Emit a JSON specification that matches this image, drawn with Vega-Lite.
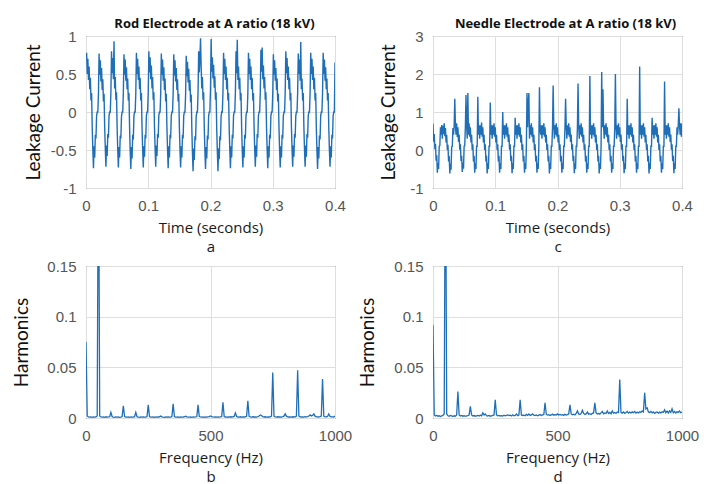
{
"$schema":"https://vega.github.io/schema/vega-lite/v6.json",
"background":"white",
"padding":{"left":12,"top":17,"right":5,"bottom":0},
"columns":2,
"spacing":{"row":78,"column":98},
"bounds":"flush",
"config":{
 "font":"Open Sans",
 "view":{"stroke":"#3a3a3a","strokeWidth":1},
 "axis":{"grid":true,"gridColor":"#dedede","gridWidth":1,"domain":false,"ticks":false,"labelFont":"Liberation Sans","labelFontSize":15,"labelColor":"#555555","labelPadding":10,"labelFlush":false,"titleFont":"Open Sans","titleFontWeight":"normal","titleFontSize":15,"titleColor":"#1a1a1a"},
 "axisX":{"titlePadding":7,"titleLineHeight":19},
 "axisY":{"titleFont":"Lato","titleFontSize":19,"titleColor":"#111111"},
 "title":{"font":"Open Sans","fontSize":13,"fontWeight":"bold","color":"#111111","offset":-2}
},
"datasets":{
"a":[
{"t":0,"v":0.7},{"t":1,"v":0.78},{"t":2,"v":0.5},{"t":3,"v":0.7},{"t":4,"v":0.42},{"t":5,"v":0.6},{"t":6,"v":0.3},{"t":7,"v":0.45},{"t":8,"v":0.15},{"t":9,"v":0.25},{"t":10,"v":-0.2},{"t":11,"v":-0.5},{"t":12,"v":-0.74},{"t":13,"v":-0.45},{"t":14,"v":-0.6},{"t":15,"v":-0.3},{"t":16,"v":-0.35},{"t":17,"v":-0.05},{"t":18,"v":0},{"t":19,"v":0},
{"t":20,"v":0.24},{"t":21,"v":0.77},{"t":22,"v":0.49},{"t":23,"v":0.68},{"t":24,"v":0.4},{"t":25,"v":0.58},{"t":26,"v":0.29},{"t":27,"v":0.43},{"t":28,"v":0.14},{"t":29,"v":0.24},{"t":30,"v":-0.19},{"t":31,"v":-0.48},{"t":32,"v":-0.72},{"t":33,"v":-0.44},{"t":34,"v":-0.58},{"t":35,"v":-0.29},{"t":36,"v":-0.34},{"t":37,"v":-0.05},{"t":38,"v":0},{"t":39,"v":0},
{"t":40,"v":0.26},{"t":41,"v":0.8},{"t":42,"v":0.51},{"t":43,"v":0.71},{"t":44,"v":0.43},{"t":45,"v":0.93},{"t":46,"v":0.31},{"t":47,"v":0.46},{"t":48,"v":0.16},{"t":49,"v":0.26},{"t":50,"v":-0.21},{"t":51,"v":-0.5},{"t":52,"v":-0.73},{"t":53,"v":-0.46},{"t":54,"v":-0.6},{"t":55,"v":-0.31},{"t":56,"v":-0.35},{"t":57,"v":-0.06},{"t":58,"v":0},{"t":59,"v":0},
{"t":60,"v":0.25},{"t":61,"v":0.76},{"t":62,"v":0.49},{"t":63,"v":0.69},{"t":64,"v":0.41},{"t":65,"v":0.59},{"t":66,"v":0.3},{"t":67,"v":0.44},{"t":68,"v":0.15},{"t":69,"v":0.25},{"t":70,"v":-0.2},{"t":71,"v":-0.51},{"t":72,"v":-0.75},{"t":73,"v":-0.46},{"t":74,"v":-0.61},{"t":75,"v":-0.3},{"t":76,"v":-0.36},{"t":77,"v":-0.05},{"t":78,"v":0},{"t":79,"v":0},
{"t":80,"v":0.25},{"t":81,"v":0.78},{"t":82,"v":0.5},{"t":83,"v":0.7},{"t":84,"v":0.42},{"t":85,"v":0.6},{"t":86,"v":0.3},{"t":87,"v":0.45},{"t":88,"v":0.15},{"t":89,"v":0.25},{"t":90,"v":-0.2},{"t":91,"v":-0.49},{"t":92,"v":-0.73},{"t":93,"v":-0.45},{"t":94,"v":-0.59},{"t":95,"v":-0.3},{"t":96,"v":-0.35},{"t":97,"v":-0.05},{"t":98,"v":0},{"t":99,"v":0},
{"t":100,"v":0.27},{"t":101,"v":0.8},{"t":102,"v":0.52},{"t":103,"v":0.72},{"t":104,"v":0.43},{"t":105,"v":0.61},{"t":106,"v":0.31},{"t":107,"v":0.46},{"t":108,"v":0.16},{"t":109,"v":0.26},{"t":110,"v":-0.19},{"t":111,"v":-0.48},{"t":112,"v":-0.72},{"t":113,"v":-0.44},{"t":114,"v":-0.58},{"t":115,"v":-0.29},{"t":116,"v":-0.34},{"t":117,"v":-0.04},{"t":118,"v":0},{"t":119,"v":0},
{"t":120,"v":0.24},{"t":121,"v":0.77},{"t":122,"v":0.49},{"t":123,"v":0.69},{"t":124,"v":0.41},{"t":125,"v":0.59},{"t":126,"v":0.29},{"t":127,"v":0.44},{"t":128,"v":0.14},{"t":129,"v":0.24},{"t":130,"v":-0.2},{"t":131,"v":-0.5},{"t":132,"v":-0.74},{"t":133,"v":-0.45},{"t":134,"v":-0.6},{"t":135,"v":-0.3},{"t":136,"v":-0.35},{"t":137,"v":-0.05},{"t":138,"v":0},{"t":139,"v":0},
{"t":140,"v":0.24},{"t":141,"v":0.76},{"t":142,"v":0.48},{"t":143,"v":0.68},{"t":144,"v":0.4},{"t":145,"v":0.58},{"t":146,"v":0.29},{"t":147,"v":0.43},{"t":148,"v":0.14},{"t":149,"v":0.24},{"t":150,"v":-0.2},{"t":151,"v":-0.5},{"t":152,"v":-0.73},{"t":153,"v":-0.45},{"t":154,"v":-0.6},{"t":155,"v":-0.3},{"t":156,"v":-0.35},{"t":157,"v":-0.05},{"t":158,"v":0},{"t":159,"v":0},
{"t":160,"v":0.23},{"t":161,"v":0.74},{"t":162,"v":0.47},{"t":163,"v":0.66},{"t":164,"v":0.39},{"t":165,"v":0.57},{"t":166,"v":0.28},{"t":167,"v":0.42},{"t":168,"v":0.13},{"t":169,"v":0.23},{"t":170,"v":-0.22},{"t":171,"v":-0.53},{"t":172,"v":-0.78},{"t":173,"v":-0.48},{"t":174,"v":-0.63},{"t":175,"v":-0.32},{"t":176,"v":-0.37},{"t":177,"v":-0.06},{"t":178,"v":0},{"t":179,"v":0},
{"t":180,"v":0.26},{"t":181,"v":0.8},{"t":182,"v":0.52},{"t":183,"v":0.71},{"t":184,"v":0.97},{"t":185,"v":0.6},{"t":186,"v":0.31},{"t":187,"v":0.46},{"t":188,"v":0.16},{"t":189,"v":0.26},{"t":190,"v":-0.2},{"t":191,"v":-0.51},{"t":192,"v":-0.75},{"t":193,"v":-0.46},{"t":194,"v":-0.61},{"t":195,"v":-0.31},{"t":196,"v":-0.36},{"t":197,"v":-0.05},{"t":198,"v":0},{"t":199,"v":0},
{"t":200,"v":0.3},{"t":201,"v":0.96},{"t":202,"v":0.53},{"t":203,"v":0.72},{"t":204,"v":0.44},{"t":205,"v":0.62},{"t":206,"v":0.32},{"t":207,"v":0.47},{"t":208,"v":0.16},{"t":209,"v":0.26},{"t":210,"v":-0.22},{"t":211,"v":-0.52},{"t":212,"v":-0.78},{"t":213,"v":-0.48},{"t":214,"v":-0.62},{"t":215,"v":-0.32},{"t":216,"v":-0.37},{"t":217,"v":-0.06},{"t":218,"v":0},{"t":219,"v":0},
{"t":220,"v":0.25},{"t":221,"v":0.78},{"t":222,"v":0.5},{"t":223,"v":0.7},{"t":224,"v":0.42},{"t":225,"v":0.6},{"t":226,"v":0.3},{"t":227,"v":0.45},{"t":228,"v":0.15},{"t":229,"v":0.25},{"t":230,"v":-0.2},{"t":231,"v":-0.5},{"t":232,"v":-0.74},{"t":233,"v":-0.45},{"t":234,"v":-0.6},{"t":235,"v":-0.3},{"t":236,"v":-0.35},{"t":237,"v":-0.05},{"t":238,"v":0},{"t":239,"v":0},
{"t":240,"v":0.26},{"t":241,"v":0.8},{"t":242,"v":0.51},{"t":243,"v":0.95},{"t":244,"v":0.42},{"t":245,"v":0.6},{"t":246,"v":0.3},{"t":247,"v":0.45},{"t":248,"v":0.15},{"t":249,"v":0.25},{"t":250,"v":-0.2},{"t":251,"v":-0.5},{"t":252,"v":-0.73},{"t":253,"v":-0.45},{"t":254,"v":-0.6},{"t":255,"v":-0.3},{"t":256,"v":-0.35},{"t":257,"v":-0.05},{"t":258,"v":0},{"t":259,"v":0},
{"t":260,"v":0.25},{"t":261,"v":0.78},{"t":262,"v":0.5},{"t":263,"v":0.7},{"t":264,"v":0.42},{"t":265,"v":0.6},{"t":266,"v":0.3},{"t":267,"v":0.45},{"t":268,"v":0.15},{"t":269,"v":0.25},{"t":270,"v":-0.19},{"t":271,"v":-0.49},{"t":272,"v":-0.72},{"t":273,"v":-0.44},{"t":274,"v":-0.59},{"t":275,"v":-0.29},{"t":276,"v":-0.34},{"t":277,"v":-0.05},{"t":278,"v":0},{"t":279,"v":0},
{"t":280,"v":0.27},{"t":281,"v":0.82},{"t":282,"v":0.53},{"t":283,"v":0.85},{"t":284,"v":0.43},{"t":285,"v":0.61},{"t":286,"v":0.31},{"t":287,"v":0.46},{"t":288,"v":0.16},{"t":289,"v":0.26},{"t":290,"v":-0.2},{"t":291,"v":-0.5},{"t":292,"v":-0.74},{"t":293,"v":-0.45},{"t":294,"v":-0.6},{"t":295,"v":-0.3},{"t":296,"v":-0.35},{"t":297,"v":-0.05},{"t":298,"v":0},{"t":299,"v":0},
{"t":300,"v":0.24},{"t":301,"v":0.76},{"t":302,"v":0.49},{"t":303,"v":0.68},{"t":304,"v":0.41},{"t":305,"v":0.58},{"t":306,"v":0.29},{"t":307,"v":0.44},{"t":308,"v":0.14},{"t":309,"v":0.24},{"t":310,"v":-0.2},{"t":311,"v":-0.5},{"t":312,"v":-0.73},{"t":313,"v":-0.45},{"t":314,"v":-0.6},{"t":315,"v":-0.3},{"t":316,"v":-0.35},{"t":317,"v":-0.05},{"t":318,"v":0},{"t":319,"v":0},
{"t":320,"v":0.26},{"t":321,"v":0.8},{"t":322,"v":0.51},{"t":323,"v":0.71},{"t":324,"v":0.42},{"t":325,"v":0.6},{"t":326,"v":0.3},{"t":327,"v":0.45},{"t":328,"v":0.15},{"t":329,"v":0.25},{"t":330,"v":-0.19},{"t":331,"v":-0.49},{"t":332,"v":-0.72},{"t":333,"v":-0.44},{"t":334,"v":-0.59},{"t":335,"v":-0.29},{"t":336,"v":-0.34},{"t":337,"v":-0.05},{"t":338,"v":0},{"t":339,"v":0},
{"t":340,"v":0.25},{"t":341,"v":0.77},{"t":342,"v":0.5},{"t":343,"v":0.69},{"t":344,"v":0.41},{"t":345,"v":0.92},{"t":346,"v":0.3},{"t":347,"v":0.44},{"t":348,"v":0.15},{"t":349,"v":0.25},{"t":350,"v":-0.19},{"t":351,"v":-0.49},{"t":352,"v":-0.72},{"t":353,"v":-0.44},{"t":354,"v":-0.59},{"t":355,"v":-0.29},{"t":356,"v":-0.34},{"t":357,"v":-0.05},{"t":358,"v":0},{"t":359,"v":0},
{"t":360,"v":0.25},{"t":361,"v":0.78},{"t":362,"v":0.5},{"t":363,"v":0.7},{"t":364,"v":0.42},{"t":365,"v":0.6},{"t":366,"v":0.3},{"t":367,"v":0.45},{"t":368,"v":0.15},{"t":369,"v":0.25},{"t":370,"v":-0.21},{"t":371,"v":-0.51},{"t":372,"v":-0.75},{"t":373,"v":-0.46},{"t":374,"v":-0.61},{"t":375,"v":-0.31},{"t":376,"v":-0.36},{"t":377,"v":-0.05},{"t":378,"v":0},{"t":379,"v":0},
{"t":380,"v":0.25},{"t":381,"v":0.78},{"t":382,"v":0.5},{"t":383,"v":0.69},{"t":384,"v":0.41},{"t":385,"v":0.59},{"t":386,"v":0.3},{"t":387,"v":0.44},{"t":388,"v":0.15},{"t":389,"v":0.25},{"t":390,"v":-0.2},{"t":391,"v":-0.5},{"t":392,"v":-0.72},{"t":393,"v":-0.45},{"t":394,"v":-0.6},{"t":395,"v":-0.3},{"t":396,"v":-0.35},{"t":397,"v":-0.05},{"t":398,"v":0},{"t":399,"v":0},
{"t":400,"v":0.65}
],
"c":[
{"t":0,"v":0.7},{"t":1,"v":0.22},{"t":2,"v":0.42},{"t":3,"v":0.02},{"t":4,"v":0.16},{"t":5,"v":-0.28},{"t":6,"v":-0.14},{"t":7,"v":-0.6},{"t":8,"v":-0.34},{"t":9,"v":-0.5},{"t":10,"v":0.1},{"t":11,"v":0.12},{"t":12,"v":0.6},{"t":13,"v":0.4},{"t":14,"v":0.66},{"t":15,"v":0.3},{"t":16,"v":0.64},{"t":17,"v":0.42},{"t":18,"v":0.7},{"t":19,"v":0.36},
{"t":20,"v":0.58},{"t":21,"v":0.2},{"t":22,"v":0.4},{"t":23,"v":0},{"t":24,"v":0.14},{"t":25,"v":-0.3},{"t":26,"v":-0.16},{"t":27,"v":-0.62},{"t":28,"v":-0.36},{"t":29,"v":-0.52},{"t":30,"v":0.08},{"t":31,"v":0.1},{"t":32,"v":0.58},{"t":33,"v":0.4},{"t":34,"v":0.64},{"t":35,"v":1.35},{"t":36,"v":0.66},{"t":37,"v":0.4},{"t":38,"v":0.7},{"t":39,"v":0.34},
{"t":40,"v":0.6},{"t":41,"v":0.21},{"t":42,"v":0.41},{"t":43,"v":0.01},{"t":44,"v":0.15},{"t":45,"v":-0.29},{"t":46,"v":-0.15},{"t":47,"v":-0.58},{"t":48,"v":-0.34},{"t":49,"v":-0.49},{"t":50,"v":0.1},{"t":51,"v":0.11},{"t":52,"v":0.6},{"t":53,"v":1.45},{"t":54,"v":0.65},{"t":55,"v":0.3},{"t":56,"v":1.5},{"t":57,"v":0.4},{"t":58,"v":0.7},{"t":59,"v":0.35},
{"t":60,"v":0.6},{"t":61,"v":0.2},{"t":62,"v":0.4},{"t":63,"v":0},{"t":64,"v":0.15},{"t":65,"v":-0.3},{"t":66,"v":-0.15},{"t":67,"v":-0.6},{"t":68,"v":-0.35},{"t":69,"v":-0.5},{"t":70,"v":0.1},{"t":71,"v":0.1},{"t":72,"v":1.4},{"t":73,"v":0.4},{"t":74,"v":0.65},{"t":75,"v":0.3},{"t":76,"v":0.65},{"t":77,"v":0.4},{"t":78,"v":0.72},{"t":79,"v":0.35},
{"t":80,"v":0.6},{"t":81,"v":0.2},{"t":82,"v":0.4},{"t":83,"v":0},{"t":84,"v":0.15},{"t":85,"v":-0.3},{"t":86,"v":-0.15},{"t":87,"v":-0.62},{"t":88,"v":-0.35},{"t":89,"v":-0.5},{"t":90,"v":0.1},{"t":91,"v":0.1},{"t":92,"v":1.25},{"t":93,"v":0.4},{"t":94,"v":0.65},{"t":95,"v":0.3},{"t":96,"v":0.65},{"t":97,"v":0.4},{"t":98,"v":0.7},{"t":99,"v":0.35},
{"t":100,"v":0.6},{"t":101,"v":0.2},{"t":102,"v":0.4},{"t":103,"v":0},{"t":104,"v":0.15},{"t":105,"v":-0.3},{"t":106,"v":-0.15},{"t":107,"v":-0.6},{"t":108,"v":-0.35},{"t":109,"v":-0.5},{"t":110,"v":0.1},{"t":111,"v":0.1},{"t":112,"v":1.0},{"t":113,"v":0.4},{"t":114,"v":0.65},{"t":115,"v":0.3},{"t":116,"v":0.65},{"t":117,"v":0.4},{"t":118,"v":0.7},{"t":119,"v":0.35},
{"t":120,"v":0.6},{"t":121,"v":0.21},{"t":122,"v":0.41},{"t":123,"v":0.01},{"t":124,"v":0.15},{"t":125,"v":-0.29},{"t":126,"v":-0.15},{"t":127,"v":-0.61},{"t":128,"v":-0.35},{"t":129,"v":-0.5},{"t":130,"v":0.1},{"t":131,"v":0.1},{"t":132,"v":0.85},{"t":133,"v":0.4},{"t":134,"v":0.65},{"t":135,"v":0.3},{"t":136,"v":0.65},{"t":137,"v":0.4},{"t":138,"v":0.7},{"t":139,"v":0.35},
{"t":140,"v":0.6},{"t":141,"v":0.2},{"t":142,"v":0.4},{"t":143,"v":0},{"t":144,"v":0.15},{"t":145,"v":-0.3},{"t":146,"v":-0.15},{"t":147,"v":-0.6},{"t":148,"v":-0.35},{"t":149,"v":-0.5},{"t":150,"v":0.1},{"t":151,"v":1.5},{"t":152,"v":0.6},{"t":153,"v":1.2},{"t":154,"v":1.5},{"t":155,"v":0.3},{"t":156,"v":0.65},{"t":157,"v":0.4},{"t":158,"v":0.7},{"t":159,"v":0.35},
{"t":160,"v":0.6},{"t":161,"v":0.2},{"t":162,"v":0.4},{"t":163,"v":0},{"t":164,"v":0.15},{"t":165,"v":-0.3},{"t":166,"v":-0.15},{"t":167,"v":-0.6},{"t":168,"v":-0.35},{"t":169,"v":-0.5},{"t":170,"v":0.1},{"t":171,"v":1.65},{"t":172,"v":0.6},{"t":173,"v":0.4},{"t":174,"v":0.65},{"t":175,"v":0.3},{"t":176,"v":0.65},{"t":177,"v":0.4},{"t":178,"v":0.7},{"t":179,"v":0.35},
{"t":180,"v":0.6},{"t":181,"v":0.2},{"t":182,"v":0.4},{"t":183,"v":0},{"t":184,"v":0.15},{"t":185,"v":-0.3},{"t":186,"v":-0.15},{"t":187,"v":-0.62},{"t":188,"v":-0.35},{"t":189,"v":-0.5},{"t":190,"v":0.1},{"t":191,"v":0.1},{"t":192,"v":0.6},{"t":193,"v":1.7},{"t":194,"v":0.65},{"t":195,"v":0.3},{"t":196,"v":0.65},{"t":197,"v":0.4},{"t":198,"v":0.7},{"t":199,"v":0.35},
{"t":200,"v":0.6},{"t":201,"v":0.2},{"t":202,"v":0.4},{"t":203,"v":0},{"t":204,"v":0.15},{"t":205,"v":-0.3},{"t":206,"v":-0.15},{"t":207,"v":-0.6},{"t":208,"v":-0.35},{"t":209,"v":-0.5},{"t":210,"v":0.1},{"t":211,"v":0.1},{"t":212,"v":0.6},{"t":213,"v":1.35},{"t":214,"v":0.65},{"t":215,"v":0.3},{"t":216,"v":0.65},{"t":217,"v":0.4},{"t":218,"v":0.7},{"t":219,"v":0.35},
{"t":220,"v":0.6},{"t":221,"v":0.21},{"t":222,"v":0.41},{"t":223,"v":0.01},{"t":224,"v":0.15},{"t":225,"v":-0.29},{"t":226,"v":-0.15},{"t":227,"v":-0.61},{"t":228,"v":-0.35},{"t":229,"v":-0.5},{"t":230,"v":0.1},{"t":231,"v":0.1},{"t":232,"v":0.6},{"t":233,"v":1.75},{"t":234,"v":0.65},{"t":235,"v":0.3},{"t":236,"v":0.65},{"t":237,"v":0.4},{"t":238,"v":0.7},{"t":239,"v":0.35},
{"t":240,"v":0.6},{"t":241,"v":0.2},{"t":242,"v":0.4},{"t":243,"v":0},{"t":244,"v":0.15},{"t":245,"v":-0.3},{"t":246,"v":-0.15},{"t":247,"v":-0.6},{"t":248,"v":-0.35},{"t":249,"v":-0.5},{"t":250,"v":0.1},{"t":251,"v":0.1},{"t":252,"v":1.95},{"t":253,"v":0.4},{"t":254,"v":0.65},{"t":255,"v":0.3},{"t":256,"v":0.65},{"t":257,"v":0.4},{"t":258,"v":0.7},{"t":259,"v":0.35},
{"t":260,"v":0.6},{"t":261,"v":0.2},{"t":262,"v":0.4},{"t":263,"v":0},{"t":264,"v":0.15},{"t":265,"v":-0.3},{"t":266,"v":-0.15},{"t":267,"v":-0.62},{"t":268,"v":-0.35},{"t":269,"v":-0.5},{"t":270,"v":0.1},{"t":271,"v":2.05},{"t":272,"v":0.6},{"t":273,"v":1.6},{"t":274,"v":0.65},{"t":275,"v":0.3},{"t":276,"v":0.65},{"t":277,"v":0.4},{"t":278,"v":0.7},{"t":279,"v":0.35},
{"t":280,"v":0.6},{"t":281,"v":0.2},{"t":282,"v":0.4},{"t":283,"v":0},{"t":284,"v":0.15},{"t":285,"v":-0.3},{"t":286,"v":-0.15},{"t":287,"v":-0.6},{"t":288,"v":-0.35},{"t":289,"v":-0.5},{"t":290,"v":0.1},{"t":291,"v":0.1},{"t":292,"v":0.6},{"t":293,"v":2.0},{"t":294,"v":0.65},{"t":295,"v":0.3},{"t":296,"v":0.65},{"t":297,"v":0.4},{"t":298,"v":0.7},{"t":299,"v":0.35},
{"t":300,"v":0.6},{"t":301,"v":0.21},{"t":302,"v":0.41},{"t":303,"v":0.01},{"t":304,"v":0.15},{"t":305,"v":-0.29},{"t":306,"v":-0.15},{"t":307,"v":-0.61},{"t":308,"v":-0.35},{"t":309,"v":-0.5},{"t":310,"v":0.1},{"t":311,"v":0.1},{"t":312,"v":1.35},{"t":313,"v":0.4},{"t":314,"v":0.65},{"t":315,"v":0.3},{"t":316,"v":0.65},{"t":317,"v":0.4},{"t":318,"v":0.7},{"t":319,"v":0.35},
{"t":320,"v":0.6},{"t":321,"v":0.2},{"t":322,"v":0.4},{"t":323,"v":0},{"t":324,"v":0.15},{"t":325,"v":-0.3},{"t":326,"v":-0.15},{"t":327,"v":-0.6},{"t":328,"v":-0.35},{"t":329,"v":-0.5},{"t":330,"v":0.1},{"t":331,"v":0.1},{"t":332,"v":2.2},{"t":333,"v":0.4},{"t":334,"v":0.65},{"t":335,"v":0.3},{"t":336,"v":0.65},{"t":337,"v":0.4},{"t":338,"v":0.7},{"t":339,"v":0.35},
{"t":340,"v":0.6},{"t":341,"v":0.2},{"t":342,"v":0.4},{"t":343,"v":0},{"t":344,"v":0.15},{"t":345,"v":-0.3},{"t":346,"v":-0.15},{"t":347,"v":-0.62},{"t":348,"v":-0.35},{"t":349,"v":-0.5},{"t":350,"v":0.1},{"t":351,"v":0.1},{"t":352,"v":0.85},{"t":353,"v":0.4},{"t":354,"v":0.65},{"t":355,"v":0.3},{"t":356,"v":0.65},{"t":357,"v":0.4},{"t":358,"v":0.7},{"t":359,"v":0.35},
{"t":360,"v":0.6},{"t":361,"v":0.2},{"t":362,"v":0.4},{"t":363,"v":0},{"t":364,"v":0.15},{"t":365,"v":-0.3},{"t":366,"v":-0.15},{"t":367,"v":-0.6},{"t":368,"v":-0.35},{"t":369,"v":-0.5},{"t":370,"v":0.1},{"t":371,"v":0.1},{"t":372,"v":1.8},{"t":373,"v":0.4},{"t":374,"v":0.65},{"t":375,"v":0.3},{"t":376,"v":0.65},{"t":377,"v":0.4},{"t":378,"v":0.7},{"t":379,"v":0.35},
{"t":380,"v":0.6},{"t":381,"v":0.21},{"t":382,"v":0.41},{"t":383,"v":0.01},{"t":384,"v":0.15},{"t":385,"v":-0.29},{"t":386,"v":-0.15},{"t":387,"v":-0.61},{"t":388,"v":-0.35},{"t":389,"v":-0.5},{"t":390,"v":0.1},{"t":391,"v":0.1},{"t":392,"v":0.6},{"t":393,"v":0.4},{"t":394,"v":0.65},{"t":395,"v":1.1},{"t":396,"v":0.65},{"t":397,"v":0.4},{"t":398,"v":0.7},{"t":399,"v":0.35},
{"t":400,"v":0.7}
],
"b":[
{"f":0,"h":0.075},{"f":5,"h":0.002},{"f":10,"h":0.0012},{"f":15,"h":0.0008},{"f":20,"h":0.001},{"f":25,"h":0.0007},{"f":30,"h":0.0011},{"f":35,"h":0.0008},{"f":40,"h":0.001},{"f":45,"h":0.002},
{"f":50,"h":0.3},{"f":55,"h":0.002},{"f":60,"h":0.0011},{"f":65,"h":0.0008},{"f":70,"h":0.001},{"f":75,"h":0.0007},{"f":80,"h":0.0012},{"f":85,"h":0.0008},{"f":90,"h":0.001},{"f":95,"h":0.0013},
{"f":100,"h":0.0056},{"f":105,"h":0.0013},{"f":110,"h":0.0009},{"f":115,"h":0.0007},{"f":120,"h":0.0011},{"f":125,"h":0.0008},{"f":130,"h":0.001},{"f":135,"h":0.0007},{"f":140,"h":0.0009},{"f":145,"h":0.0014},
{"f":150,"h":0.012},{"f":155,"h":0.0014},{"f":160,"h":0.0009},{"f":165,"h":0.0008},{"f":170,"h":0.0011},{"f":175,"h":0.0007},{"f":180,"h":0.001},{"f":185,"h":0.0008},{"f":190,"h":0.0009},{"f":195,"h":0.0013},
{"f":200,"h":0.0056},{"f":205,"h":0.0013},{"f":210,"h":0.0009},{"f":215,"h":0.0007},{"f":220,"h":0.0011},{"f":225,"h":0.0008},{"f":230,"h":0.001},{"f":235,"h":0.0008},{"f":240,"h":0.0009},{"f":245,"h":0.0014},
{"f":250,"h":0.013},{"f":255,"h":0.0014},{"f":260,"h":0.0009},{"f":265,"h":0.0008},{"f":270,"h":0.001},{"f":275,"h":0.0007},{"f":280,"h":0.0011},{"f":285,"h":0.0008},{"f":290,"h":0.001},{"f":295,"h":0.0012},
{"f":300,"h":0.002},{"f":305,"h":0.0012},{"f":310,"h":0.0009},{"f":315,"h":0.0007},{"f":320,"h":0.001},{"f":325,"h":0.0008},{"f":330,"h":0.0011},{"f":335,"h":0.0008},{"f":340,"h":0.0009},{"f":345,"h":0.0014},
{"f":350,"h":0.014},{"f":355,"h":0.0014},{"f":360,"h":0.0009},{"f":365,"h":0.0008},{"f":370,"h":0.001},{"f":375,"h":0.0007},{"f":380,"h":0.0011},{"f":385,"h":0.0009},{"f":390,"h":0.001},{"f":395,"h":0.0012},
{"f":400,"h":0.0018},{"f":405,"h":0.0012},{"f":410,"h":0.0009},{"f":415,"h":0.0008},{"f":420,"h":0.001},{"f":425,"h":0.0007},{"f":430,"h":0.0011},{"f":435,"h":0.0008},{"f":440,"h":0.001},{"f":445,"h":0.0014},
{"f":450,"h":0.013},{"f":455,"h":0.0014},{"f":460,"h":0.001},{"f":465,"h":0.0008},{"f":470,"h":0.0011},{"f":475,"h":0.0007},{"f":480,"h":0.001},{"f":485,"h":0.0009},{"f":490,"h":0.0011},{"f":495,"h":0.0013},
{"f":500,"h":0.002},{"f":505,"h":0.0013},{"f":510,"h":0.001},{"f":515,"h":0.0008},{"f":520,"h":0.0011},{"f":525,"h":0.0009},{"f":530,"h":0.001},{"f":535,"h":0.0008},{"f":540,"h":0.0011},{"f":545,"h":0.0015},
{"f":550,"h":0.0155},{"f":555,"h":0.0015},{"f":560,"h":0.001},{"f":565,"h":0.0009},{"f":570,"h":0.0011},{"f":575,"h":0.0008},{"f":580,"h":0.0012},{"f":585,"h":0.001},{"f":590,"h":0.0011},{"f":595,"h":0.0015},
{"f":600,"h":0.005},{"f":605,"h":0.0015},{"f":610,"h":0.001},{"f":615,"h":0.0009},{"f":620,"h":0.0012},{"f":625,"h":0.0008},{"f":630,"h":0.0011},{"f":635,"h":0.001},{"f":640,"h":0.0012},{"f":645,"h":0.0016},
{"f":650,"h":0.017},{"f":655,"h":0.0016},{"f":660,"h":0.0011},{"f":665,"h":0.0009},{"f":670,"h":0.0012},{"f":675,"h":0.001},{"f":680,"h":0.0011},{"f":685,"h":0.0009},{"f":690,"h":0.0013},{"f":695,"h":0.002},
{"f":700,"h":0.003},{"f":705,"h":0.0025},{"f":710,"h":0.0013},{"f":715,"h":0.001},{"f":720,"h":0.0012},{"f":725,"h":0.0009},{"f":730,"h":0.0011},{"f":735,"h":0.001},{"f":740,"h":0.0012},{"f":745,"h":0.0018},
{"f":750,"h":0.045},{"f":755,"h":0.0018},{"f":760,"h":0.0011},{"f":765,"h":0.0009},{"f":770,"h":0.0012},{"f":775,"h":0.001},{"f":780,"h":0.0011},{"f":785,"h":0.0009},{"f":790,"h":0.0013},{"f":795,"h":0.0018},
{"f":800,"h":0.004},{"f":805,"h":0.0018},{"f":810,"h":0.0012},{"f":815,"h":0.001},{"f":820,"h":0.0011},{"f":825,"h":0.0009},{"f":830,"h":0.0012},{"f":835,"h":0.001},{"f":840,"h":0.0012},{"f":845,"h":0.0018},
{"f":850,"h":0.047},{"f":855,"h":0.0018},{"f":860,"h":0.0012},{"f":865,"h":0.001},{"f":870,"h":0.0011},{"f":875,"h":0.0009},{"f":880,"h":0.0013},{"f":885,"h":0.0011},{"f":890,"h":0.0014},{"f":895,"h":0.002},
{"f":900,"h":0.003},{"f":905,"h":0.002},{"f":910,"h":0.0025},{"f":915,"h":0.004},{"f":920,"h":0.0018},{"f":925,"h":0.0011},{"f":930,"h":0.0012},{"f":935,"h":0.001},{"f":940,"h":0.0013},{"f":945,"h":0.0018},
{"f":950,"h":0.0385},{"f":955,"h":0.0018},{"f":960,"h":0.0012},{"f":965,"h":0.0011},{"f":970,"h":0.0015},{"f":975,"h":0.004},{"f":980,"h":0.0015},{"f":985,"h":0.0011},{"f":990,"h":0.0012},{"f":995,"h":0.001},
{"f":1000,"h":0.002}
],
"d":[
{"f":0,"h":0.092},{"f":5,"h":0.003},{"f":10,"h":0.002},{"f":15,"h":0.0025},{"f":20,"h":0.0018},{"f":25,"h":0.0022},{"f":30,"h":0.0015},{"f":35,"h":0.002},{"f":40,"h":0.0025},{"f":45,"h":0.004},
{"f":50,"h":0.3},{"f":55,"h":0.004},{"f":60,"h":0.0022},{"f":65,"h":0.0018},{"f":70,"h":0.0025},{"f":75,"h":0.002},{"f":80,"h":0.0015},{"f":85,"h":0.0022},{"f":90,"h":0.0018},{"f":95,"h":0.003},
{"f":100,"h":0.026},{"f":105,"h":0.003},{"f":110,"h":0.002},{"f":115,"h":0.0025},{"f":120,"h":0.0018},{"f":125,"h":0.0022},{"f":130,"h":0.0016},{"f":135,"h":0.002},{"f":140,"h":0.0024},{"f":145,"h":0.003},
{"f":150,"h":0.0115},{"f":155,"h":0.003},{"f":160,"h":0.002},{"f":165,"h":0.0024},{"f":170,"h":0.0018},{"f":175,"h":0.0022},{"f":180,"h":0.0025},{"f":185,"h":0.002},{"f":190,"h":0.0028},{"f":195,"h":0.0022},
{"f":200,"h":0.005},{"f":205,"h":0.003},{"f":210,"h":0.004},{"f":215,"h":0.0022},{"f":220,"h":0.002},{"f":225,"h":0.0025},{"f":230,"h":0.0018},{"f":235,"h":0.0022},{"f":240,"h":0.0026},{"f":245,"h":0.003},
{"f":250,"h":0.018},{"f":255,"h":0.003},{"f":260,"h":0.0022},{"f":265,"h":0.0026},{"f":270,"h":0.002},{"f":275,"h":0.0024},{"f":280,"h":0.0019},{"f":285,"h":0.0028},{"f":290,"h":0.0022},{"f":295,"h":0.0025},
{"f":300,"h":0.003},{"f":305,"h":0.0024},{"f":310,"h":0.0028},{"f":315,"h":0.002},{"f":320,"h":0.0032},{"f":325,"h":0.0022},{"f":330,"h":0.0026},{"f":335,"h":0.004},{"f":340,"h":0.0024},{"f":345,"h":0.003},
{"f":350,"h":0.018},{"f":355,"h":0.003},{"f":360,"h":0.0025},{"f":365,"h":0.0028},{"f":370,"h":0.0022},{"f":375,"h":0.0035},{"f":380,"h":0.0026},{"f":385,"h":0.004},{"f":390,"h":0.0025},{"f":395,"h":0.003},
{"f":400,"h":0.004},{"f":405,"h":0.0028},{"f":410,"h":0.0024},{"f":415,"h":0.003},{"f":420,"h":0.0022},{"f":425,"h":0.0028},{"f":430,"h":0.0035},{"f":435,"h":0.0025},{"f":440,"h":0.003},{"f":445,"h":0.0035},
{"f":450,"h":0.015},{"f":455,"h":0.0035},{"f":460,"h":0.0028},{"f":465,"h":0.0032},{"f":470,"h":0.0025},{"f":475,"h":0.003},{"f":480,"h":0.0038},{"f":485,"h":0.0028},{"f":490,"h":0.0032},{"f":495,"h":0.003},
{"f":500,"h":0.004},{"f":505,"h":0.003},{"f":510,"h":0.0035},{"f":515,"h":0.0028},{"f":520,"h":0.0032},{"f":525,"h":0.0026},{"f":530,"h":0.0036},{"f":535,"h":0.003},{"f":540,"h":0.0034},{"f":545,"h":0.004},
{"f":550,"h":0.013},{"f":555,"h":0.004},{"f":560,"h":0.0032},{"f":565,"h":0.0038},{"f":570,"h":0.003},{"f":575,"h":0.0045},{"f":580,"h":0.007},{"f":585,"h":0.004},{"f":590,"h":0.0035},{"f":595,"h":0.0045},
{"f":600,"h":0.0076},{"f":605,"h":0.0045},{"f":610,"h":0.0035},{"f":615,"h":0.004},{"f":620,"h":0.006},{"f":625,"h":0.0038},{"f":630,"h":0.0042},{"f":635,"h":0.0035},{"f":640,"h":0.0045},{"f":645,"h":0.005},
{"f":650,"h":0.015},{"f":655,"h":0.005},{"f":660,"h":0.004},{"f":665,"h":0.0045},{"f":670,"h":0.0038},{"f":675,"h":0.005},{"f":680,"h":0.0065},{"f":685,"h":0.0042},{"f":690,"h":0.005},{"f":695,"h":0.0045},
{"f":700,"h":0.007},{"f":705,"h":0.0045},{"f":710,"h":0.0055},{"f":715,"h":0.0042},{"f":720,"h":0.007},{"f":725,"h":0.0048},{"f":730,"h":0.0055},{"f":735,"h":0.0045},{"f":740,"h":0.006},{"f":745,"h":0.0055},
{"f":750,"h":0.038},{"f":755,"h":0.0055},{"f":760,"h":0.0048},{"f":765,"h":0.006},{"f":770,"h":0.0045},{"f":775,"h":0.0055},{"f":780,"h":0.0065},{"f":785,"h":0.0048},{"f":790,"h":0.0058},{"f":795,"h":0.005},
{"f":800,"h":0.006},{"f":805,"h":0.0052},{"f":810,"h":0.0065},{"f":815,"h":0.0048},{"f":820,"h":0.0058},{"f":825,"h":0.005},{"f":830,"h":0.0062},{"f":835,"h":0.0055},{"f":840,"h":0.007},{"f":845,"h":0.006},
{"f":850,"h":0.025},{"f":855,"h":0.009},{"f":860,"h":0.01},{"f":865,"h":0.006},{"f":870,"h":0.0055},{"f":875,"h":0.0065},{"f":880,"h":0.005},{"f":885,"h":0.006},{"f":890,"h":0.0045},{"f":895,"h":0.0055},
{"f":900,"h":0.006},{"f":905,"h":0.0048},{"f":910,"h":0.0058},{"f":915,"h":0.005},{"f":920,"h":0.0062},{"f":925,"h":0.0055},{"f":930,"h":0.008},{"f":935,"h":0.0052},{"f":940,"h":0.0068},{"f":945,"h":0.005},
{"f":950,"h":0.007},{"f":955,"h":0.0055},{"f":960,"h":0.009},{"f":965,"h":0.0052},{"f":970,"h":0.0065},{"f":975,"h":0.005},{"f":980,"h":0.0062},{"f":985,"h":0.0055},{"f":990,"h":0.0068},{"f":995,"h":0.0052},
{"f":1000,"h":0.006}
]
},
"concat":[
{
 "width":249,"height":152,
 "data":{"name":"a"},
 "title":{"text":"Rod Electrode at A ratio (18 kV)","dx":4},
 "mark":{"type":"line","clip":true,"strokeWidth":1.4,"color":"#1f6fb8"},
 "encoding":{
  "x":{"field":"t","type":"quantitative","scale":{"domain":[0,400],"nice":false},"axis":{"values":[0,100,200,300,400],"labelExpr":"'' + (datum.value/1000)","title":["Time (seconds)","a"]}},
  "y":{"field":"v","type":"quantitative","scale":{"domain":[-1,1],"nice":false},"axis":{"values":[-1,-0.5,0,0.5,1],"labelExpr":"'' + datum.value","title":"Leakage Current","titlePadding":7}}
 }
},
{
 "width":249,"height":152,
 "data":{"name":"c"},
 "title":{"text":"Needle Electrode at A ratio (18 kV)","dx":8},
 "mark":{"type":"line","clip":true,"strokeWidth":1.4,"color":"#1f6fb8"},
 "encoding":{
  "x":{"field":"t","type":"quantitative","scale":{"domain":[0,400],"nice":false},"axis":{"values":[0,100,200,300,400],"labelExpr":"'' + (datum.value/1000)","title":["Time (seconds)","c"]}},
  "y":{"field":"v","type":"quantitative","scale":{"domain":[-1,3],"nice":false},"axis":{"values":[-1,0,1,2,3],"labelExpr":"'' + datum.value","title":"Leakage Current","titlePadding":11}}
 }
},
{
 "width":249,"height":152,
 "data":{"name":"b"},
 "mark":{"type":"line","clip":true,"strokeWidth":1.3,"color":"#1f6fb8"},
 "encoding":{
  "x":{"field":"f","type":"quantitative","scale":{"domain":[0,1000],"nice":false},"axis":{"values":[0,500,1000],"labelExpr":"'' + datum.value","title":["Frequency (Hz)","b"]}},
  "y":{"field":"h","type":"quantitative","scale":{"domain":[0,0.15],"nice":false},"axis":{"values":[0,0.05,0.1,0.15],"labelExpr":"'' + datum.value","title":"Harmonics","titlePadding":15}}
 }
},
{
 "width":249,"height":152,
 "data":{"name":"d"},
 "mark":{"type":"line","clip":true,"strokeWidth":1.3,"color":"#1f6fb8"},
 "encoding":{
  "x":{"field":"f","type":"quantitative","scale":{"domain":[0,1000],"nice":false},"axis":{"values":[0,500,1000],"labelExpr":"'' + datum.value","title":["Frequency (Hz)","d"]}},
  "y":{"field":"h","type":"quantitative","scale":{"domain":[0,0.15],"nice":false},"axis":{"values":[0,0.05,0.1,0.15],"labelExpr":"'' + datum.value","title":"Harmonics","titlePadding":16}}
 }
}
]
}
